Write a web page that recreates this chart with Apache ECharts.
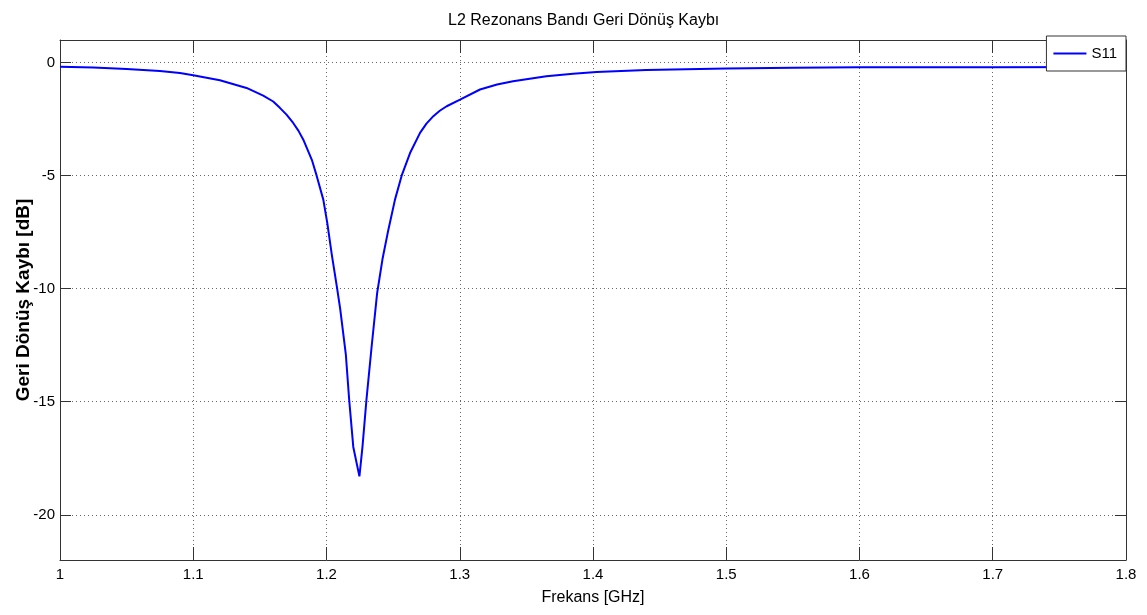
<!DOCTYPE html>
<html>
<head>
<meta charset="utf-8">
<script src="https://cdn.jsdelivr.net/npm/echarts@6/dist/echarts.min.js"></script>
<style>
html,body{margin:0;padding:0;background:#fff;}
#chart{width:1147px;height:615px;}
</style>
</head>
<body>
<div id="chart"></div>
<script>
const titleText = 'L2 Rezonans Bandı Geri Dönüş Kaybı';
const xName = 'Frekans [GHz]';
const yName = 'Geri Dönüş Kaybı [dB]';
const seriesName = 'S11';
const xTicks = [1, 1.1, 1.2, 1.3, 1.4, 1.5, 1.6, 1.7, 1.8];
const yTicks = [-20, -15, -10, -5, 0];
const freq = [1.000, 1.025, 1.050, 1.075, 1.090, 1.100, 1.120, 1.140, 1.1525, 1.160, 1.165, 1.170, 1.175, 1.1790, 1.1826, 1.1890, 1.1926, 1.1976, 1.2006, 1.2040, 1.2080, 1.2103, 1.2145, 1.2170, 1.2201, 1.2247, 1.2270, 1.2300, 1.2338, 1.2380, 1.2420, 1.2464, 1.2514, 1.2564, 1.2627, 1.2702, 1.2750, 1.2802, 1.2850, 1.2902, 1.3002, 1.3152, 1.3280, 1.3400, 1.3650, 1.3850, 1.4026, 1.4400, 1.5000, 1.5500, 1.6000, 1.7000, 1.8000];
const s11 = [-0.18, -0.22, -0.28, -0.37, -0.46, -0.56, -0.78, -1.12, -1.46, -1.72, -2.00, -2.30, -2.67, -3.02, -3.41, -4.30, -5.00, -6.06, -7.10, -8.50, -10.00, -10.90, -12.90, -14.90, -17.00, -18.30, -17.00, -14.90, -12.60, -10.20, -8.70, -7.40, -6.06, -5.00, -4.00, -3.11, -2.70, -2.37, -2.13, -1.93, -1.64, -1.19, -0.97, -0.82, -0.60, -0.49, -0.41, -0.33, -0.26, -0.23, -0.21, -0.20, -0.19];

const font = "'Liberation Sans', Arial, sans-serif";
const data = freq.map((f, i) => [f, s11[i]]);
const gridLine = {show: true, lineStyle: {color: '#666', type: [1, 3], width: 1}};
const axLine = {show: true, onZero: false, lineStyle: {color: '#333', width: 1}};

const chart = echarts.init(document.getElementById('chart'), null, {renderer: 'canvas'});
chart.setOption({
  animation: false,
  backgroundColor: '#fff',
  title: {
    text: titleText, left: 443, top: 8,
    textStyle: {fontFamily: font, fontSize: 16, fontWeight: 'normal', color: '#000'}
  },
  grid: {left: 60, right: 21, top: 40, bottom: 55, containLabel: false, outerBoundsMode: 'none'},
  legend: {
    data: [{name: seriesName, icon: 'path://M0,0 L33,0 L33,2 L0,2 Z'}],
    right: 21, top: 36,
    orient: 'vertical',
    backgroundColor: '#fff', borderColor: '#333', borderWidth: 1,
    padding: [10, 9, 10, 7],
    itemWidth: 33, itemHeight: 14,
    itemStyle: {color: '#0000ff', borderWidth: 0},
    lineStyle: {width: 0},
    textStyle: {fontFamily: font, fontSize: 15, color: '#000'},
    z: 10
  },
  xAxis: [{
    type: 'value', min: 1, max: 1.8, position: 'bottom',
    name: xName, nameLocation: 'middle', nameGap: 30, nameMoveOverlap: false,
    nameTextStyle: {fontFamily: font, fontSize: 16, color: '#000'},
    axisLine: axLine,
    axisTick: {show: true, inside: true, length: 13, customValues: xTicks, lineStyle: {color: '#333'}},
    axisLabel: {customValues: xTicks, fontFamily: font, fontSize: 15, color: '#000', margin: 7,
      formatter: v => String(Math.round(v * 10) / 10)},
    splitLine: gridLine
  }, {
    type: 'value', min: 1, max: 1.8, position: 'top',
    axisLine: axLine,
    axisTick: {show: true, inside: true, length: 13, customValues: xTicks, lineStyle: {color: '#333'}},
    axisLabel: {show: false},
    splitLine: {show: false}
  }],
  yAxis: [{
    type: 'value', min: -22, max: 1, position: 'left',
    name: yName, nameLocation: 'middle', nameGap: 27, nameMoveOverlap: false,
    nameTextStyle: {fontFamily: font, fontSize: 19, fontWeight: 'bold', color: '#000'},
    axisLine: axLine,
    axisTick: {show: true, inside: true, length: 11, customValues: yTicks, lineStyle: {color: '#333'}},
    axisLabel: {customValues: yTicks, fontFamily: font, fontSize: 15, color: '#000', margin: 5},
    splitLine: gridLine
  }, {
    type: 'value', min: -22, max: 1, position: 'right',
    axisLine: axLine,
    axisTick: {show: true, inside: true, length: 11, customValues: yTicks, lineStyle: {color: '#333'}},
    axisLabel: {show: false},
    splitLine: {show: false}
  }],
  series: [{
    name: seriesName, type: 'line', data: data,
    xAxisIndex: 0, yAxisIndex: 0,
    symbol: 'none', smooth: false,
    lineStyle: {color: '#0000ff', width: 2},
    itemStyle: {color: '#0000ff'}
  }]
});
</script>
</body>
</html>
